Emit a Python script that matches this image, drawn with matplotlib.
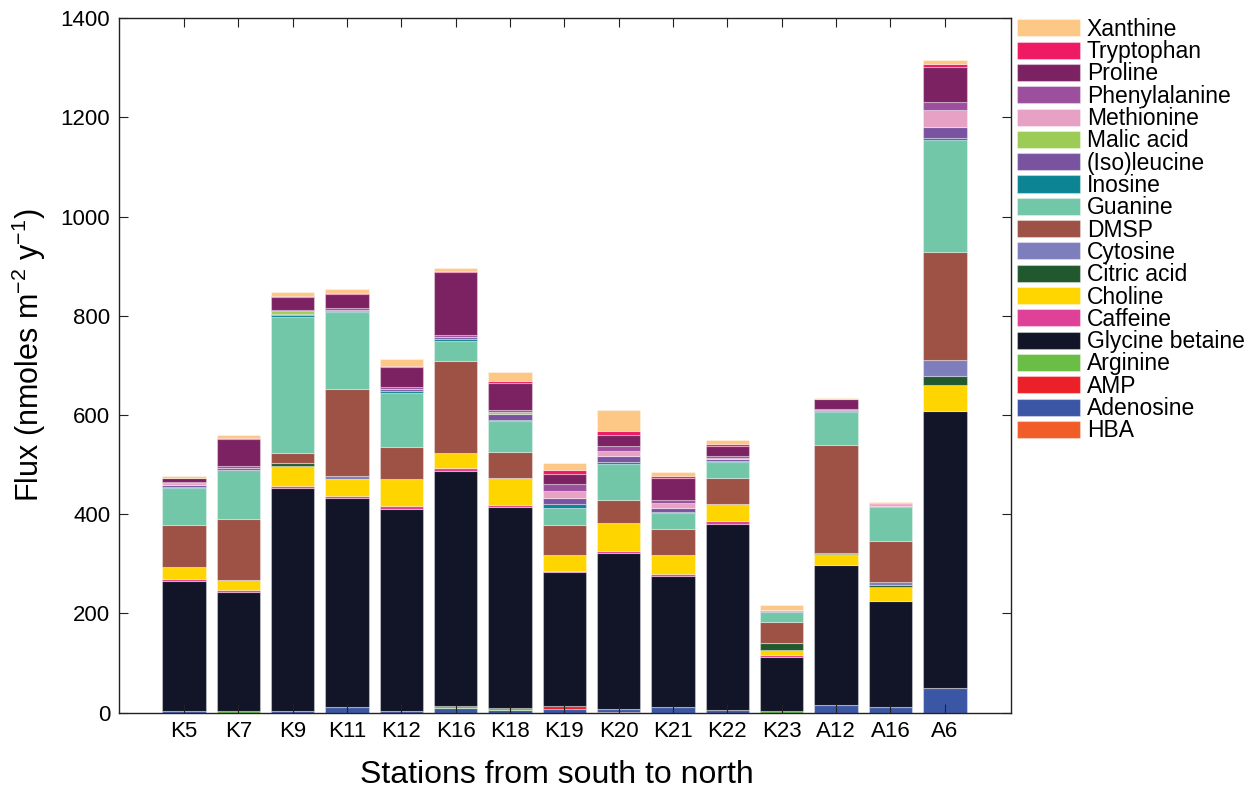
import numpy as np
import matplotlib.pyplot as plt

# Flux of metabolites per station, stacked bottom -> top
stations = ['K5', 'K7', 'K9', 'K11', 'K12', 'K16', 'K18', 'K19', 'K20',
            'K21', 'K22', 'K23', 'A12', 'A16', 'A6']

hba           = [0, 0, 0, 0, 0, 0, 0, 0, 1, 0, 0, 0, 0, 0, 0]
adenosine     = [4, 0, 3, 12, 3, 9, 5, 7, 7, 11, 5, 0, 15, 11, 49]
amp           = [0, 0, 0, 0, 0, 0, 0, 7, 0, 0, 0, 0, 0, 0, 1]
arginine      = [0, 3, 0, 0, 0, 4, 4, 0, 0, 0, 0, 3, 0, 0, 0]
glycine_bet   = [262, 241, 449, 421, 408, 475, 405, 269, 313, 265, 376, 110, 283, 213, 559]
caffeine      = [3, 3, 5, 4, 6, 5, 5, 3, 4, 4, 5, 3, 0, 0, 0]
choline       = [24, 21, 40, 34, 54, 31, 53, 31, 57, 38, 34, 10, 22, 30, 52]
citric_acid   = [0, 0, 7, 0, 0, 0, 0, 0, 0, 0, 0, 15, 2, 3, 17]
cytosine      = [0, 0, 0, 6, 0, 0, 0, 0, 0, 0, 0, 0, 0, 6, 33]
dmsp          = [85, 123, 20, 176, 65, 184, 53, 62, 47, 53, 53, 42, 218, 82, 217]
guanine       = [74, 98, 274, 155, 108, 42, 62, 34, 73, 31, 32, 20, 67, 70, 227]
inosine       = [3, 0, 3, 2, 5, 3, 3, 7, 4, 3, 3, 0, 2, 0, 4]
isoleucine    = [3, 4, 2, 2, 4, 4, 12, 13, 12, 8, 3, 2, 2, 2, 21]
malic_acid    = [0, 0, 6, 0, 0, 0, 5, 0, 0, 0, 0, 0, 0, 0, 0]
methionine    = [5, 0, 1, 0, 0, 0, 0, 14, 10, 10, 2, 0, 0, 3, 34]
phenylalanine = [2, 4, 2, 3, 4, 4, 4, 13, 10, 6, 4, 2, 2, 1, 16]
proline       = [7, 55, 25, 28, 39, 127, 53, 20, 21, 44, 20, 0, 19, 0, 71]
tryptophan    = [1, 2, 2, 2, 2, 3, 4, 9, 9, 4, 4, 0, 1, 2, 6]
xanthine      = [4, 6, 9, 8, 15, 6, 18, 14, 43, 8, 8, 10, 2, 2, 8]

series = [
    ('HBA', hba, '#F15D28'),
    ('Adenosine', adenosine, '#3C56A6'),
    ('AMP', amp, '#EC2028'),
    ('Arginine', arginine, '#6ABD45'),
    ('Glycine betaine', glycine_bet, '#121428'),
    ('Caffeine', caffeine, '#E04198'),
    ('Choline', choline, '#FFD500'),
    ('Citric acid', citric_acid, '#21582E'),
    ('Cytosine', cytosine, '#7E7EBD'),
    ('DMSP', dmsp, '#9E5145'),
    ('Guanine', guanine, '#72C7A8'),
    ('Inosine', inosine, '#0D8494'),
    ('(Iso)leucine', isoleucine, '#7A53A0'),
    ('Malic acid', malic_acid, '#9CCC55'),
    ('Methionine', methionine, '#E6A1C5'),
    ('Phenylalanine', phenylalanine, '#9B4F9C'),
    ('Proline', proline, '#7C2263'),
    ('Tryptophan', tryptophan, '#EE1A63'),
    ('Xanthine', xanthine, '#FDC785'),
]

plt.rcParams['font.family'] = ['Liberation Sans', 'DejaVu Sans']
plt.rcParams['mathtext.fontset'] = 'custom'
plt.rcParams['mathtext.rm'] = 'Liberation Sans'
plt.rcParams['mathtext.it'] = 'Liberation Sans'

fig = plt.figure(figsize=(12.56, 7.9), dpi=100)
ax = fig.add_axes([0.0945, 0.098, 0.7105, 0.879])

x = np.arange(1, len(stations) + 1)
bottom = np.zeros(len(stations))
for name, vals, col in series:
    vals = np.array(vals, dtype=float)
    ax.bar(x, vals, 0.8, bottom=bottom, color=col, label=name,
           edgecolor=(1, 1, 1, 0.35), linewidth=0.8)
    bottom += vals

ax.set_xlim(-0.2, 16.22)
ax.set_ylim(0, 1400)
ax.set_xticks(x)
ax.set_xticklabels(stations)
ax.set_yticks(np.arange(0, 1401, 200))
ax.tick_params(direction='in', length=6.5, width=0.8, labelsize=16,
               top=True, right=True, pad=6, colors='#222222', labelcolor='black')
for sp in ax.spines.values():
    sp.set_linewidth(1.0)
    sp.set_color('#222222')

ax.set_xlabel('Stations from south to north', fontsize=23)
ax.set_ylabel(r'Flux (nmoles m$^{-2}$ y$^{-1}$)', fontsize=22)
ax.xaxis.set_label_coords(0.491, -0.068)
ax.yaxis.set_label_coords(-0.079, 0.514)

h, l = ax.get_legend_handles_labels()
fig.legend(h[::-1], l[::-1], loc='upper left', bbox_to_anchor=(0.8095, 0.9775),
           frameon=False, fontsize=16.5, handlelength=2.75, handleheight=0.77,
           handletextpad=0.3, labelspacing=-0.03, borderpad=0, borderaxespad=0)

fig.savefig('out.png', dpi=100)
